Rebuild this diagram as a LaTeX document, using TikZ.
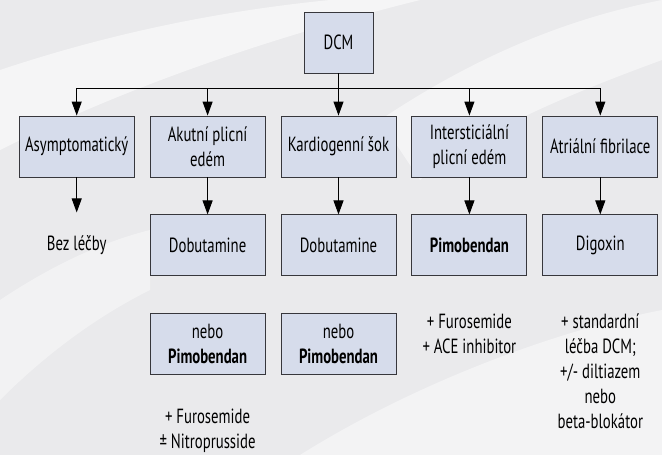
\documentclass[tikz,border=0pt]{standalone}
\usepackage{fontspec}
\setmainfont[FakeStretch=0.72]{PT Sans}
\usepackage{xcolor}
\usepackage{tikz}
\usetikzlibrary{positioning,arrows.meta}

\definecolor{boxblue}{RGB}{214,220,235}
\definecolor{bggray}{RGB}{234,234,236}
\definecolor{edgegray}{RGB}{55,55,60}

\tikzset{
	box/.style={draw=edgegray,fill=boxblue,line width=0.9pt,minimum width=115pt,minimum height=61pt,align=center,inner sep=2pt},
	note/.style={align=center,inner sep=0pt},
	arr/.style={-{Triangle[width=10pt,length=14pt]},line width=1pt},
}

\begin{document}
\begin{tikzpicture}[x=1pt,y=-1pt,font=\fontsize{20.5}{25}\selectfont]
		% background
		\fill[bggray] (0,0) rectangle (662,455);
		\fill[white,opacity=0.55] (0,70) .. controls (120,30) and (230,10) .. (330,0) -- (420,0) .. controls (260,40) and (120,90) .. (0,150) -- cycle;
		\fill[white,opacity=0.5] (380,120) .. controls (470,60) and (560,20) .. (662,0) -- (662,60) .. controls (580,90) and (480,130) .. (420,180) -- cycle;
		\fill[white,opacity=0.45] (300,455) .. controls (420,380) and (560,330) .. (662,310) -- (662,455) -- cycle;
		\fill[white,opacity=0.4] (0,300) .. controls (60,260) and (110,240) .. (150,230) -- (150,290) .. controls (90,320) and (40,360) .. (0,400) -- cycle;
		\useasboundingbox (0,0) rectangle (662,455);
		
		\node[box,minimum width=69pt] (dcm) at (338.5,42.5) {DCM};
		
		\node[box] (kard) at (338.5,146.5) {Kardiogenní šok};
		\node[box,left=15pt of kard] (akut) {Akutní plicní\\edém};
		\node[box,left=15pt of akut] (asym) {Asymptomatický};
		\node[box,right=15pt of kard] (inter) {Intersticiální\\plicní edém};
		\node[box,right=15pt of inter] (atri) {Atriální fibrilace};
		
		\node[box,below=37pt of akut] (dob1) {Dobutamine};
		\node[box,below=37pt of kard] (dob2) {Dobutamine};
		\node[box,below=37pt of inter] (pim) {\textbf{Pimobendan}};
		\node[box,below=37pt of atri] (dig) {Digoxin};
		
		\node[box,below=37pt of dob1] (pim1) {nebo\\\textbf{Pimobendan}};
		\node[box,below=37pt of dob2] (pim2) {nebo\\\textbf{Pimobendan}};
		
		\node[note] (bez) at (asym |- dob1) {Bez léčby};
		\coordinate[below=35pt of asym] (asymend);
		
		\node[note,below=34pt of pim1] (furo1) {+ Furosemide\\± Nitroprusside};
		\node[note,below=37pt of pim] (furo2) {+ Furosemide\\+ ACE inhibitor};
		\node[note,below=37pt of dig] (std) {+ standardní\\léčba DCM;\\+/- diltiazem\\nebo\\beta-blokátor};
		
		% connectors
		\coordinate (bus) at (338.5,88);
		\draw[line width=1pt] (dcm.south)--(bus);
		\draw[line width=1pt] (asym.north |- bus)--(atri.north |- bus);
		\foreach \col in {asym,akut,kard,inter,atri}{%
			\draw[arr] (\col.north |- bus)--(\col.north);
		}
		\draw[arr] (asym.south)--(asymend);
		\draw[arr] (akut.south)--(dob1.north);
		\draw[arr] (kard.south)--(dob2.north);
		\draw[arr] (inter.south)--(pim.north);
		\draw[arr] (atri.south)--(dig.north);
	\end{tikzpicture}
\end{document}
